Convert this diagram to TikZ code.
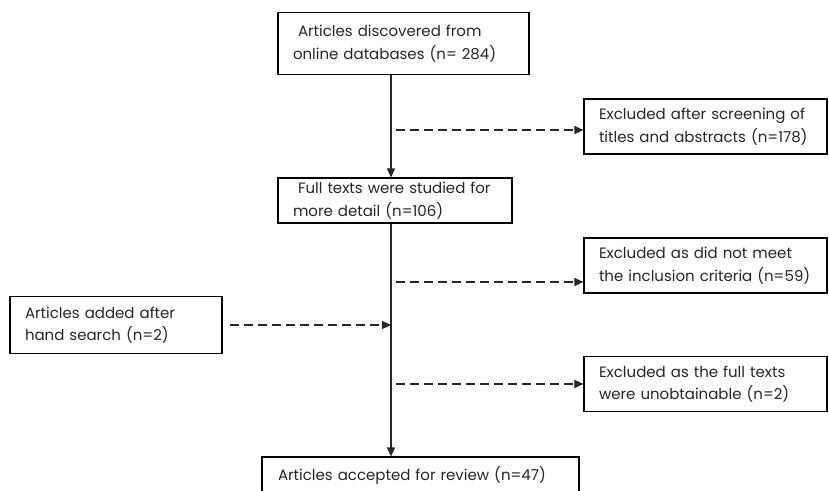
\documentclass[tikz,border=0pt]{standalone}
\usepackage{fontspec}
\setmainfont{Poppins}
\usetikzlibrary{arrows.meta}
\begin{document}
\begin{tikzpicture}[x=1pt,y=-1pt,
  box/.style={draw=black,line width=1.1pt,rectangle,inner xsep=15pt,inner ysep=0pt,
    align=left,font=\fontsize{15}{22.5}\selectfont,text=black!85},
  solidarrow/.style={draw=black!85,line width=1.1pt,-{Triangle[length=9pt,width=8pt]}},
  dasharrow/.style={draw=black!85,line width=1.1pt,dash pattern=on 9pt off 5pt,-{Triangle[length=9pt,width=8pt]}}]
\useasboundingbox (0,0) rectangle (829,490);
\clip (0,0) rectangle (829,490);
\coordinate (axis) at (391,0);
\node[box,minimum width=251pt,minimum height=62pt,text width=221pt] (b1) at (403.5,43.5)
  {\mbox{\hspace*{5pt}Articles discovered from}\\\mbox{online databases (n= 284)}};
\node[box,minimum width=243pt,minimum height=55pt,text width=213pt] (b2) at (705.5,126.5)
  {\mbox{Excluded after screening of}\\\mbox{titles and abstracts (n=178)}};
\node[box,minimum width=234pt,minimum height=45pt,text width=204pt] (b3) at (395,200.5)
  {\mbox{\hspace*{5pt}Full texts were studied for}\\\mbox{more detail (n=106)}};
\node[box,minimum width=243pt,minimum height=55pt,text width=213pt] (b4) at (705.5,265.5)
  {\mbox{Excluded as did not meet}\\\mbox{the inclusion criteria (n=59)}};
\node[box,minimum width=212pt,minimum height=57pt,text width=182pt] (hs) at (116,325)
  {\mbox{Articles added after}\\\mbox{hand search (n=2)}};
\node[box,minimum width=243pt,minimum height=55pt,text width=213pt] (b5) at (705.5,384)
  {\mbox{Excluded as the full texts}\\\mbox{were unobtainable (n=2)}};
\node[box,minimum width=317pt,minimum height=36pt,text width=285pt,inner xsep=16pt] (b6) at (420.5,475)
  {\mbox{Articles accepted for review (n=47)}};
\coordinate (j1) at (396,130);
\coordinate (j2) at (396,282);
\coordinate (j3) at (396,384);
\draw[solidarrow] (b1.south -| axis) -- (b3.north -| axis);
\draw[solidarrow] (b3.south -| axis) -- (b6.north -| axis);
\draw[dasharrow] (j1) -- (j1 -| b2.west);
\draw[dasharrow] (j2) -- (j2 -| b4.west);
\draw[dasharrow] (j3) -- (j3 -| b5.west);
\draw[dasharrow] ([xshift=7pt]hs.east) -- (hs.east -| axis);
\end{tikzpicture}
\end{document}
